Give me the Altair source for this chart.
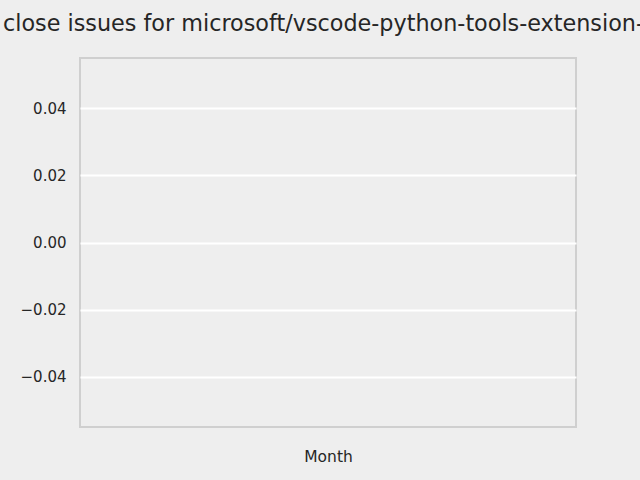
import altair as alt
import pandas as pd

# The reference chart has no data points: only empty axes.
months = []
close_times = []
y_ticks = [-0.04, -0.02, 0.0, 0.02, 0.04]
y_domain = [-0.055, 0.055]
title_text = "close issues for microsoft/vscode-python-tools-extension-template"

df = pd.DataFrame({"Month": pd.to_datetime(pd.Series(months, dtype="object")),
                   "Value": pd.Series(close_times, dtype="float")})

chart = alt.Chart(df).mark_line(color="#1f77b4").encode(
    x=alt.X("Month:T", title="Month",
            axis=alt.Axis(labels=False, ticks=False, domain=False, grid=False,
                          titleFont="DejaVu Sans", titleFontSize=15.5,
                          titleFontWeight="normal", titleColor="#262626",
                          titlePadding=22)),
    y=alt.Y("Value:Q", title=None,
            scale=alt.Scale(domain=y_domain, nice=False, zero=False),
            axis=alt.Axis(values=y_ticks, format=".2f", ticks=False, domain=False,
                          grid=True, gridColor="#ffffff", gridWidth=2,
                          labelFont="DejaVu Sans", labelFontSize=15,
                          labelColor="#262626", labelPadding=14)),
).properties(
    width=496,
    height=369,
    title=alt.TitleParams(text=title_text, anchor="start", frame="group", dx=-77,
                          font="DejaVu Sans", fontSize=22.3, fontWeight="normal",
                          color="#262626", baseline="alphabetic", offset=5),
    autosize=alt.AutoSizeParams(type="none"),
    padding={"left": 80, "top": 58, "right": 64, "bottom": 53},
).configure(
    background="#eeeeee",
).configure_view(
    fill="#eeeeee", stroke="#cfcfcf", strokeWidth=2,
)

chart.save("out.html", embed_options={"renderer": "svg", "actions": False})
